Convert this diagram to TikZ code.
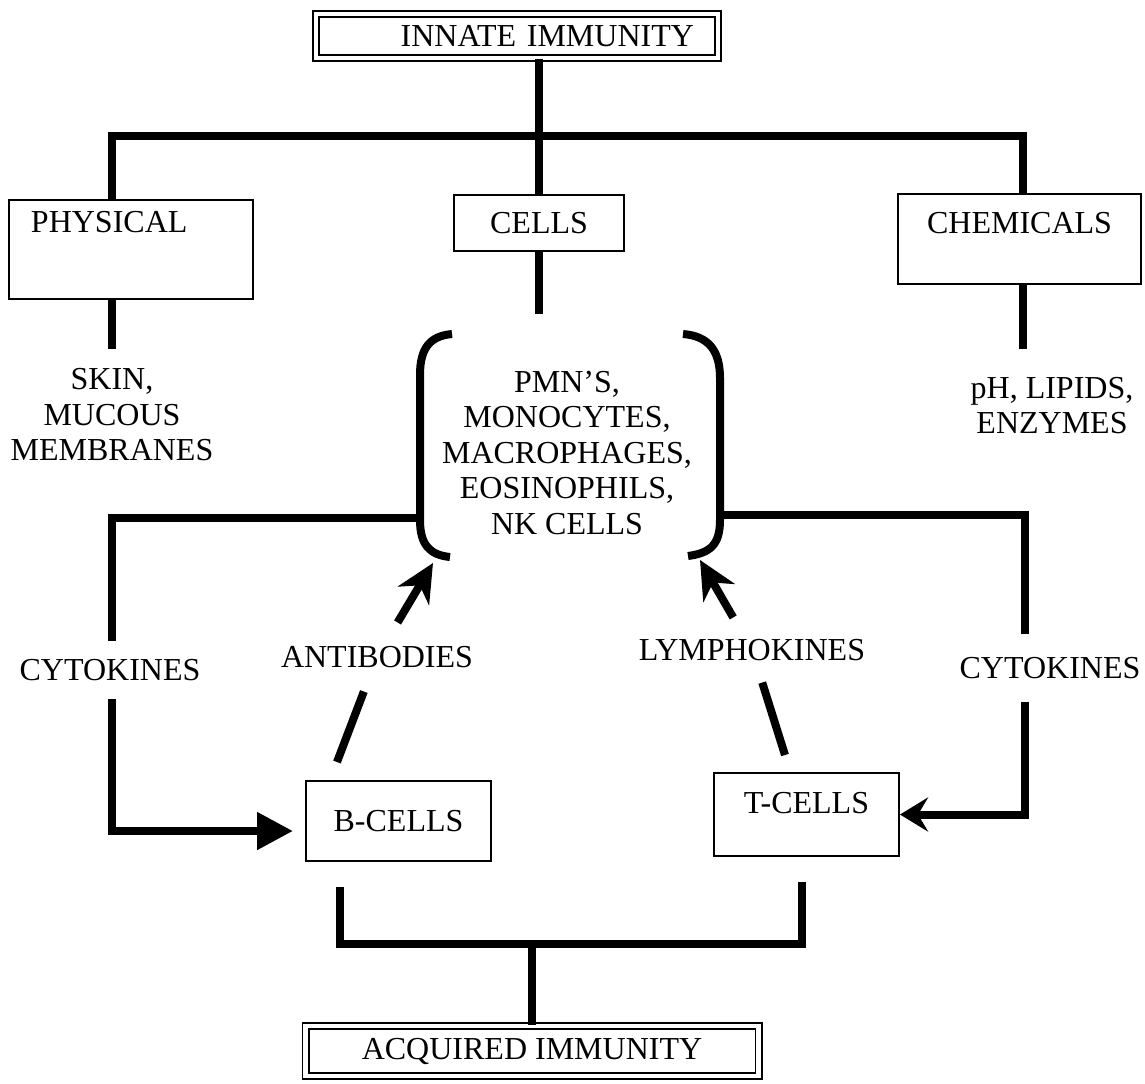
\documentclass[tikz,border=0pt]{standalone}
\usepackage{fontspec}
\setmainfont{Liberation Serif}
\usetikzlibrary{arrows.meta}

\begin{document}
\begin{tikzpicture}[x=0.5pt,y=-0.5pt,every node/.style={font=\fontsize{16}{17.75}\selectfont},
    box/.style={draw,line width=1pt,inner ysep=0pt},
    dbox/.style={draw,double,line width=0.8pt,double distance=2.4pt,inner sep=3pt},
    conn/.style={line width=4pt},
    txt/.style={align=center,inner xsep=2pt}]
                \useasboundingbox (0,0) rectangle (1145,1083);
                % boxes
                \node[dbox,text width=177pt,align=right,inner xsep=12pt,minimum height=22pt] (innate) at (517,36) {INNATE IMMUNITY};
                \node[box,anchor=north west,text width=100pt,align=left,inner xsep=11pt,text height=16.25pt,text depth=33.25pt] (phys) at (8,199) {PHYSICAL};
                \node[box,anchor=north west,minimum width=85pt,minimum height=28pt] (cells) at (453,194) {CELLS};
                \node[box,anchor=north west,minimum width=121.5pt,text height=19.8pt,text depth=25.2pt] (chem) at (897,193) {CHEMICALS};
                \node[box,anchor=north west,minimum width=92.5pt,minimum height=40pt] (bcells) at (305,780) {B-CELLS};
                \node[box,anchor=north west,minimum width=92.5pt,text height=20.3pt,text depth=21.2pt] (tcells) at (713,772) {T-CELLS};
                \node[dbox,minimum width=226.5pt,minimum height=25pt] (acquired) at (532,1051) {ACQUIRED IMMUNITY};
                % texts
                \node[txt,inner ysep=9.7pt] (skin) at (112,415) {SKIN,\\MUCOUS\\MEMBRANES};
                \node[txt] (cellist) at (567,453) {PMN'S,\\MONOCYTES,\\MACROPHAGES,\\EOSINOPHILS,\\NK CELLS};
                \node[txt,inner ysep=13.7pt] (chemlist) at (1052,405.5) {pH, LIPIDS,\\ENZYMES};
                \node[txt,inner ysep=8.7pt] (cytoL) at (110,670) {CYTOKINES};
                \node[txt,inner ysep=11.2pt] (cytoR) at (1050,668) {CYTOKINES};
                \node[txt,inner ysep=11.7pt] (antib) at (377,657) {ANTIBODIES};
                \node[txt,inner ysep=10.7pt] (lymph) at (752,650) {LYMPHOKINES};
                \coordinate (barL) at (112,136);
                \coordinate (barR) at (1023,136);
                \coordinate (lbr) at (420,518);
                \coordinate (rbr) at (720,515);
                \coordinate (lcorner) at (112,518);
                \coordinate (rcorner) at (1025,515);
                \coordinate (abfoot) at (337,762);
                \coordinate (abtip) at (433,563);
                \coordinate (lyfoot) at (785,755);
                \coordinate (lytip) at (700,560);
                % brackets
                \draw[line width=4pt] (452,334) .. controls (430,336) and (420,348) .. (420,375) -- (420,520) .. controls (420,545) and (430,555) .. (450,557);
                \draw[line width=4pt] (683,334) .. controls (708,336) and (720,350) .. (720,378) -- (720,520) .. controls (720,545) and (710,553) .. (688,556);
                % innate tree
                \draw[conn] (innate.south -| cells.north) -- (cells.north);
                \draw[conn] (phys.north -| barL) -- (barL) -- (barR) -- (chem.north -| barR);
                \draw[conn] (phys.south -| barL) -- (skin.north -| barL);
                \draw[conn] (cells.south) -- ++(0,62);
                \draw[conn] (chem.south -| barR) -- (chemlist.north -| barR);
                % cytokines
                \draw[conn] (lbr) -- (lcorner) -- (lcorner |- cytoL.north);
                \draw[conn,-{Triangle[length=18pt,width=18pt]},shorten >=6pt] (lcorner |- cytoL.south) |- ([yshift=-5pt]bcells.west);
                \draw[conn] (rbr) -- (rcorner) -- (rcorner |- cytoR.north);
                \draw[conn,-{Stealth[length=14pt,width=17pt,inset=5pt]}] (rcorner |- cytoR.south) |- (tcells.east);
                % antibodies, lymphokines
                \draw[conn] (abfoot) -- (antib);
                \draw[conn,-{Stealth[length=19pt,width=18pt,inset=6pt]}] (antib) -- (abtip);
                \draw[conn] (lyfoot) -- (lymph);
                \draw[conn,-{Stealth[length=19pt,width=18pt,inset=6pt]}] (lymph) -- (lytip);
                % acquired
                \draw[conn] ([xshift=-29.5pt,yshift=-12.5pt]bcells.south) -- ++(0,57) -| ([xshift=-2.5pt,yshift=-12.5pt]tcells.south);
                \draw[conn] (acquired.north) -- ++(0,-80);
            \end{tikzpicture}
\end{document}
